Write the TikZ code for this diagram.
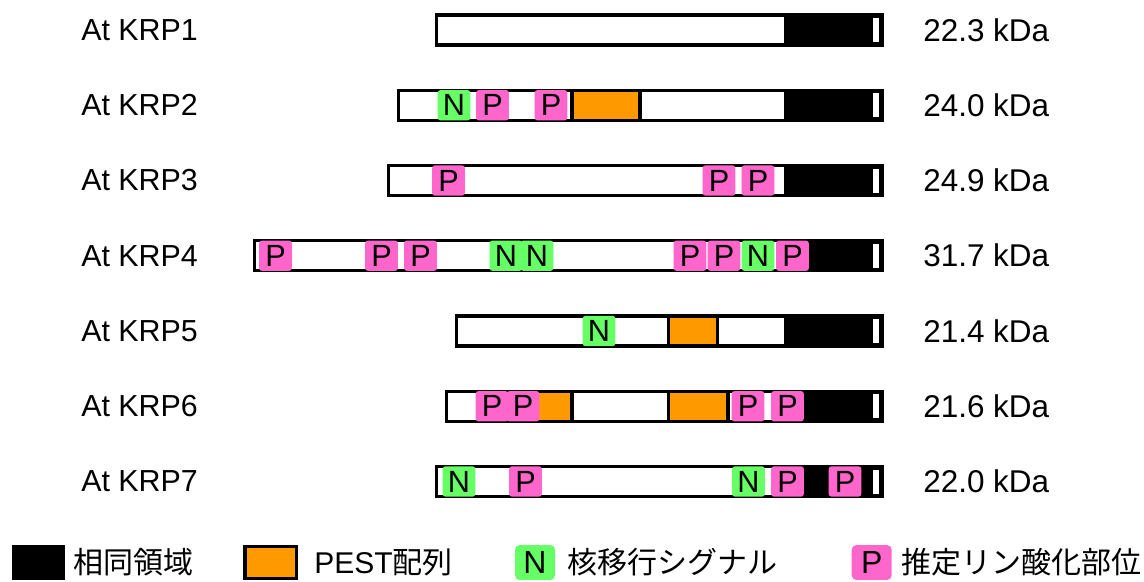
\documentclass[tikz,border=0pt]{standalone}
\usepackage{fontspec}
\setmainfont{Liberation Sans}
\newfontfamily\cjk{Noto Sans CJK JP}
\definecolor{ngreen}{HTML}{66FF66}
\definecolor{ppink}{HTML}{FF66CC}
\definecolor{orng}{HTML}{FF9900}
\newcommand\kbar[2]{%
  \draw[line width=2.4pt, fill=white] ({#1+1.6},{#2-15}) rectangle (882.4,{#2+15});
  \fill[black] (783.5,{#2-16.6}) rectangle (884,{#2+16.6});
  \fill[white] (873,{#2-12}) rectangle (879,{#2+12});}
\newcommand\kpest[3]{%
  \draw[line width=2.4pt, fill=orng] (#1,{#3-15}) rectangle (#2,{#3+15});}
\tikzset{
  lbl/.style={anchor=west, inner sep=0pt, font=\fontsize{22.8pt}{27pt}\selectfont},
  mass/.style={anchor=west, inner sep=0pt, font=\fontsize{23.6pt}{27pt}\selectfont},
  leg/.style={anchor=west, inner sep=0pt, font=\fontsize{22.5pt}{27pt}\selectfont\cjk},
  site/.style={inner sep=0pt, minimum width=24.6pt, minimum height=22.8pt,
    rounded corners=2.2pt, font=\fontsize{23pt}{24pt}\selectfont},
  nsite/.style={site, fill=ngreen},
  psite/.style={site, fill=ppink},
  legsite/.style={inner sep=0pt, minimum width=30pt, minimum height=26.2pt,
    rounded corners=3.5pt, font=\fontsize{24pt}{26pt}\selectfont},
}
\begin{document}
\begin{tikzpicture}[x=0.75pt, y=-0.75pt]
\useasboundingbox (0,0) rectangle (1144,581);
% row labels
\node[lbl] (l1) at (81,30) {At KRP1};
\node[lbl] (l2) at (81,105.25) {At KRP2};
\node[lbl] (l3) at (81,180.5) {At KRP3};
\node[lbl] (l4) at (81,255.75) {At KRP4};
\node[lbl] (l5) at (81,331) {At KRP5};
\node[lbl] (l6) at (81,406.25) {At KRP6};
\node[lbl] (l7) at (81,481.5) {At KRP7};
% masses
\node[mass] (m1) at (923,30) {22.3 kDa};
\node[mass] (m2) at (923,105.25) {24.0 kDa};
\node[mass] (m3) at (923,180.5) {24.9 kDa};
\node[mass] (m4) at (923,255.75) {31.7 kDa};
\node[mass] (m5) at (923,331) {21.4 kDa};
\node[mass] (m6) at (923,406.25) {21.6 kDa};
\node[mass] (m7) at (923,481.5) {22.0 kDa};
% KRP1
\kbar{435}{30}
% KRP2
\kbar{397}{105.25}
\kpest{572}{640}{105.25}
\node[nsite] (n2a) at (454,105.25) {N};
\node[psite] (p2a) at (492.5,105.25) {P};
\node[psite] (p2b) at (551,105.25) {P};
% KRP3
\kbar{387}{180.5}
\node[psite] (p3a) at (448.5,180.5) {P};
\node[psite] (p3b) at (719,180.5) {P};
\node[psite] (p3c) at (758,180.5) {P};
% KRP4
\kbar{252.5}{255.75}
\node[psite] (p4a) at (275.5,255.75) {P};
\node[psite] (p4b) at (381.5,255.75) {P};
\node[psite] (p4c) at (420.5,255.75) {P};
\node[nsite] (n4a) at (506,255.75) {N};
\node[nsite] (n4b) at (537,255.75) {N};
\node[psite] (p4d) at (690,255.75) {P};
\node[psite] (p4e) at (724,255.75) {P};
\node[nsite] (n4c) at (758,255.75) {N};
\node[psite] (p4f) at (792.5,255.75) {P};
% KRP5
\kbar{454.5}{331}
\kpest{668.5}{717.5}{331}
\node[nsite] (n5a) at (599,331) {N};
% KRP6
\kbar{445}{406.25}
\kpest{534}{572}{406.25}
\kpest{668.5}{728}{406.25}
\node[psite] (p6a) at (492,406.25) {P};
\node[psite] (p6b) at (523,406.25) {P};
\node[psite] (p6c) at (748,406.25) {P};
\node[psite] (p6d) at (787.5,406.25) {P};
% KRP7
\kbar{435}{481.5}
\node[nsite] (n7a) at (459,481.5) {N};
\node[psite] (p7a) at (525.5,481.5) {P};
\node[nsite] (n7b) at (748.5,481.5) {N};
\node[psite] (p7b) at (787.5,481.5) {P};
\node[psite] (p7c) at (845,481.5) {P};
% legend
\fill[black] (11.7,545) rectangle (65,580);
\node[leg] (t1) at (73,562.5) {相同領域};
\draw[line width=2.4pt, fill=orng] (245,546.6) rectangle (296.5,578.4);
\node[leg] (t2) at (314,562.5) {\fontspec{Liberation Sans}PEST\cjk 配列};
\node[legsite, fill=ngreen] (ln) at (535,562.5) {N};
\node[leg] (t3) at (567,562.5) {核移行シグナル};
\node[legsite, fill=ppink] (lp) at (871.7,562.5) {P};
\node[leg] (t4) at (901,562.5) {推定リン酸化部位};
\end{tikzpicture}
\end{document}
